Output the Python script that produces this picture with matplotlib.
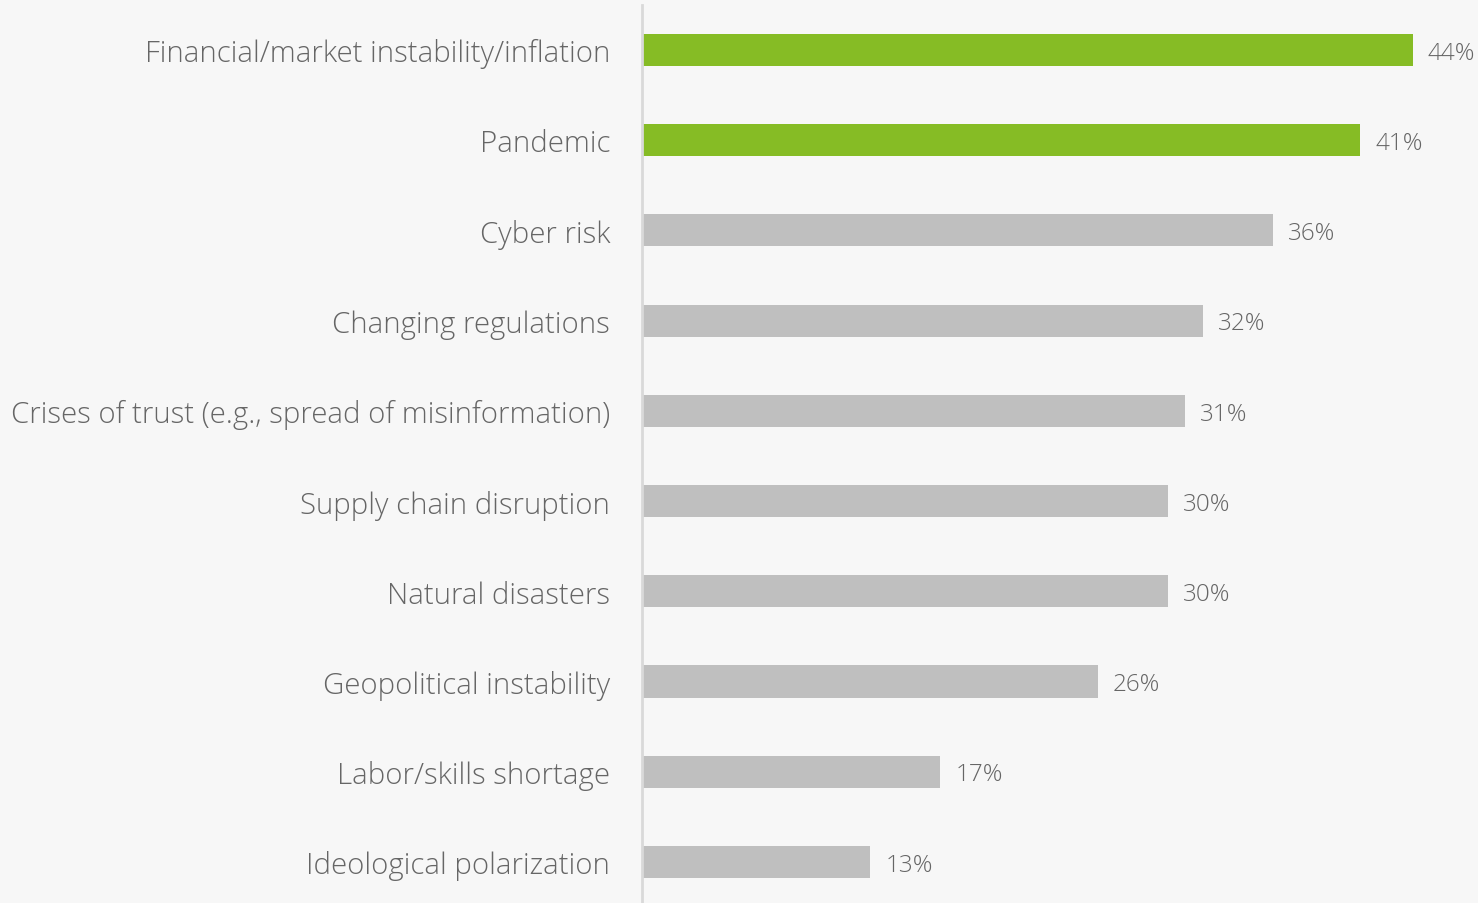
import matplotlib
matplotlib.use("Agg")
import matplotlib.pyplot as plt

categories = [
    "Financial/market instability/inflation",
    "Pandemic",
    "Cyber risk",
    "Changing regulations",
    "Crises of trust (e.g., spread of misinformation)",
    "Supply chain disruption",
    "Natural disasters",
    "Geopolitical instability",
    "Labor/skills shortage",
    "Ideological polarization",
]
values = [44, 41, 36, 32, 31, 30, 30, 26, 17, 13]
highlight = [True, True, False, False, False, False, False, False, False, False]

GREEN = "#86bc25"
GREY = "#bfbfbf"
BG = "#f7f7f7"
TEXT = "#666666"

plt.rcParams['font.family'] = ['Open Sans', 'DejaVu Sans']

fig = plt.figure(figsize=(14.78, 9.04), dpi=100, facecolor=BG)
ax = fig.add_axes([642 / 1478, 0, 1 - 642 / 1478, 1], facecolor=BG)

ypos = list(range(len(categories)))
colors = [GREEN if h else GREY for h in highlight]
ax.barh(ypos, values, height=0.355, color=colors, left=0.05)

for y, v in zip(ypos, values):
    ax.text(v + 0.9, y + 0.03, f"{v}%", va="center", ha="left",
            fontsize=17.5, color=TEXT, fontweight="light")

ax.set_xlim(0, 836 / 17.5)
ax.set_ylim(9.455, -0.565)
ax.set_yticks(ypos)
ax.set_yticklabels(categories, fontsize=21.2, color=TEXT, fontweight="light")
ax.tick_params(axis="y", length=0, pad=23)
ax.set_xticks([])

for s in ["top", "right", "bottom"]:
    ax.spines[s].set_visible(False)
ax.spines["left"].set_color("#d9d9d9")
ax.spines["left"].set_linewidth(2)
ax.spines["left"].set_bounds(9.455, -0.5)

fig.savefig("out.png", dpi=100, facecolor=BG)
